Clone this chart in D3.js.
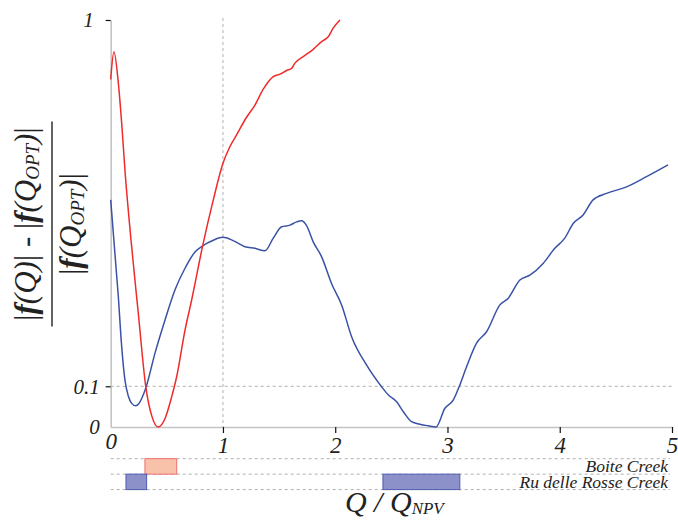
<!DOCTYPE html>
<html>
<head>
<meta charset="utf-8">
<script src="https://cdn.jsdelivr.net/npm/d3@7"></script>
<style>
  body { margin: 0; background: #fff; }
  svg { display: block; }
  .serif { font-family: "Liberation Serif", "DejaVu Serif", serif; font-style: italic; fill: #222; }
</style>
</head>
<body>
<svg id="chart" width="678" height="527"></svg>
<script>
// Relative deviation of the objective from its optimum, as a function of Q / Q_NPV
const boiteCreek = [
  [0, 0.854], [0.029, 0.922], [0.068, 0.845], [0.098, 0.746], [0.127, 0.631],
  [0.181, 0.459], [0.246, 0.279], [0.312, 0.100], [0.365, 0.028], [0.424, 0.0],
  [0.484, 0.021], [0.543, 0.074], [0.588, 0.124], [0.662, 0.238], [0.721, 0.312],
  [0.819, 0.445], [0.914, 0.558], [1.0, 0.648], [1.06, 0.688], [1.12, 0.717],
  [1.21, 0.761], [1.285, 0.791], [1.359, 0.830], [1.448, 0.861], [1.508, 0.867],
  [1.567, 0.876], [1.612, 0.881], [1.641, 0.894], [1.715, 0.910], [1.804, 0.928],
  [1.879, 0.947], [1.938, 0.959], [1.982, 0.980], [2.042, 1.0]
];

const rosseCreek = [
  [0, 0.558], [0.068, 0.320], [0.098, 0.197], [0.127, 0.115], [0.157, 0.076],
  [0.187, 0.058], [0.223, 0.052], [0.25, 0.057], [0.276, 0.070], [0.312, 0.095],
  [0.394, 0.181], [0.484, 0.263],
  [0.573, 0.337], [0.662, 0.390], [0.751, 0.430], [0.819, 0.445], [0.914, 0.459],
  [1.0, 0.466], [1.09, 0.458], [1.196, 0.443], [1.285, 0.439], [1.374, 0.433],
  [1.448, 0.464], [1.523, 0.492], [1.597, 0.496], [1.656, 0.504], [1.70, 0.507],
  [1.745, 0.495], [1.804, 0.455], [1.879, 0.418], [1.968, 0.352], [2.057, 0.300],
  [2.146, 0.222], [2.28, 0.152], [2.413, 0.099], [2.472, 0.079], [2.547, 0.062],
  [2.606, 0.038], [2.68, 0.013], [2.754, 0.007], [2.828, 0.003], [2.897, 0.0],
  [2.977, 0.046], [3.051, 0.066], [3.104, 0.099], [3.17, 0.148], [3.259, 0.206],
  [3.348, 0.234], [3.467, 0.300], [3.54, 0.316], [3.645, 0.361], [3.734, 0.373],
  [3.852, 0.402], [3.956, 0.439], [4.045, 0.464], [4.12, 0.500], [4.208, 0.521],
  [4.297, 0.558], [4.417, 0.574], [4.595, 0.590], [4.773, 0.615], [4.965, 0.644]
];

// Q / Q_NPV ranges where each creek stays within the 10% band
const boiteRanges = [[0.305, 0.588]];
const rosseRanges = [[0.136, 0.32], [2.425, 3.11]];

const rows = ["Boite Creek", "Ru delle Rosse Creek"];
const xTicks = [0, 1, 2, 3, 4, 5];
const yTicks = [0, 0.1, 1];
const threshold = 0.1;
const optimum = 1;

const colors = {
  boite: "#ee2b2b",
  rosse: "#3a52a6",
  boiteFill: "#f8c2aa",
  boiteEdge: "#ee6f6f",
  rosseFill: "#8c91c9",
  rosseEdge: "#4f5cb1"
};

const svg = d3.select("#chart");
const x = d3.scaleLinear().domain([0, 5]).range([110.7, 672]);
const y = d3.scaleLinear().domain([0, 1]).range([427, 20]);
const row = d3.scaleBand().domain(rows).range([458.7, 489.6]);

const dashed = "#b0b0b0";

// reference lines: Q = Q_NPV and the 10% level
svg.append("line")
  .attr("x1", x(optimum)).attr("x2", x(optimum))
  .attr("y1", y(1) - 2).attr("y2", y(0))
  .attr("stroke", dashed).attr("stroke-width", 1).attr("stroke-dasharray", "3,3");
svg.append("line")
  .attr("x1", x(0)).attr("x2", x(5))
  .attr("y1", y(threshold)).attr("y2", y(threshold))
  .attr("stroke", dashed).attr("stroke-width", 1).attr("stroke-dasharray", "3,3");

// axes
const yAxis = svg.append("g")
  .attr("transform", `translate(${x(0)},0)`)
  .call(d3.axisLeft(y).tickValues(yTicks).tickSize(5).tickPadding(6)
    .tickSizeOuter(0).tickFormat(d => d));
const xAxis = svg.append("g")
  .attr("transform", `translate(0,${y(0)})`)
  .call(d3.axisBottom(x).tickValues(xTicks).tickSize(6).tickPadding(4)
    .tickSizeOuter(0).tickFormat(d => d));

[yAxis, xAxis].forEach(g => {
  g.select(".domain").attr("stroke", "#c4c4c4").attr("stroke-width", 1.6);
  g.selectAll(".tick line").attr("stroke", "#111").attr("stroke-width", 1.2);
  g.selectAll(".tick text").attr("class", "serif").attr("fill", "#222");
});
yAxis.selectAll(".tick text").style("font-size", "21px");
xAxis.selectAll(".tick text").style("font-size", "23px");
// no tick marks at the origin
yAxis.selectAll(".tick").filter(d => d === 0).select("line").remove();
xAxis.selectAll(".tick").filter(d => d === 0).select("line").remove();
yAxis.selectAll(".tick").filter(d => d === 1).select("text").attr("x", -17);
xAxis.selectAll(".tick").filter(d => d === 0).select("text").attr("dy", "0.5em");

// curves
const line = d3.line()
  .x(d => x(d[0]))
  .y(d => y(d[1]))
  .curve(d3.curveMonotoneX);

svg.append("path").datum(rosseCreek)
  .attr("d", line).attr("fill", "none")
  .attr("stroke", colors.rosse).attr("stroke-width", 1.5);
svg.append("path").datum(boiteCreek)
  .attr("d", line).attr("fill", "none")
  .attr("stroke", colors.boite).attr("stroke-width", 1.5);

// range strip below the axis
const rowEdges = [row(rows[0]), row(rows[1]), row(rows[1]) + row.bandwidth()];
svg.selectAll(".row-line").data(rowEdges).enter().append("line")
  .attr("x1", x(0)).attr("x2", 670)
  .attr("y1", d => d).attr("y2", d => d)
  .attr("stroke", dashed).attr("stroke-width", 1).attr("stroke-dasharray", "3,3");

const strips = [
  { name: rows[0], ranges: boiteRanges, fill: colors.boiteFill, edge: colors.boiteEdge },
  { name: rows[1], ranges: rosseRanges, fill: colors.rosseFill, edge: colors.rosseEdge }
];
strips.forEach(s => {
  svg.selectAll(null).data(s.ranges).enter().append("rect")
    .attr("x", d => x(d[0]))
    .attr("width", d => x(d[1]) - x(d[0]))
    .attr("y", row(s.name))
    .attr("height", row.bandwidth())
    .attr("fill", s.fill)
    .attr("stroke", s.edge)
    .attr("stroke-width", 1);
  svg.append("text").attr("class", "serif")
    .attr("x", 668).attr("y", row(s.name) + row.bandwidth() - 2)
    .attr("text-anchor", "end")
    .style("font-size", "17.5px")
    .text(s.name);
});

// x-axis title: Q / Q_NPV
const xTitle = svg.append("text").attr("class", "serif")
  .attr("x", (x.range()[0] + x.range()[1]) / 2 + 3)
  .attr("y", 512)
  .attr("text-anchor", "middle")
  .style("font-size", "30px");
xTitle.append("tspan").text("Q / Q");
xTitle.append("tspan").attr("dy", 2).style("font-size", "17px").text("NPV");

// y-axis title: (|f(Q)| - |f(Q_OPT)|) / |f(Q_OPT)|
const yTitle = svg.append("g")
  .attr("transform", "translate(52,224) rotate(-90)");

function fracText(g, parts, yBase) {
  const t = g.append("text").attr("class", "serif")
    .attr("x", 0).attr("y", yBase)
    .attr("text-anchor", "middle")
    .style("font-size", "31px");
  parts.forEach(p => {
    const s = t.append("tspan").text(p.t);
    if (p.bold) s.style("font-weight", "bold");
    if (p.sub) s.style("font-size", "19px").attr("dy", 3);
    if (p.unsub) s.attr("dy", -3);
    if (p.upright) s.style("font-style", "normal");
  });
}

fracText(yTitle, [
  { t: "|", upright: true }, { t: "f", bold: true }, { t: "(Q)" }, { t: "|", upright: true },
  { t: " - ", upright: true },
  { t: "|", upright: true }, { t: "f", bold: true }, { t: "(Q" }, { t: "OPT", sub: true },
  { t: ")", unsub: true }, { t: "|", upright: true }
], -16);

yTitle.append("line")
  .attr("x1", -102.5).attr("x2", 102.5)
  .attr("y1", 0).attr("y2", 0)
  .attr("stroke", "#222").attr("stroke-width", 1.4);

fracText(yTitle, [
  { t: "|", upright: true }, { t: "f", bold: true }, { t: "(Q" }, { t: "OPT", sub: true },
  { t: ")", unsub: true }, { t: "|", upright: true }
], 29);
</script>
</body>
</html>
